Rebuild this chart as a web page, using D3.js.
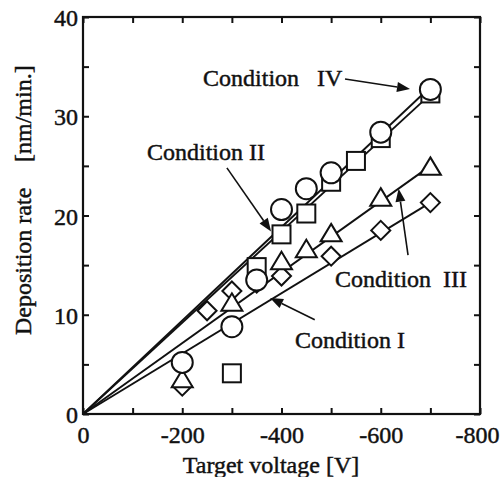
<!DOCTYPE html>
<html><head><meta charset="utf-8">
<script src="https://cdn.jsdelivr.net/npm/d3@7"></script>
<style>
html,body{margin:0;padding:0;background:#fff;}
svg text{font-family:"Liberation Serif",Tinos,"Times New Roman",Times,"DejaVu Serif","Noto Serif",serif !important;fill:#111;stroke:#111;stroke-width:0.45px;}
</style></head>
<body>
<svg id="c" width="500" height="477"></svg>
<script>
// ---- data ----
const xTicks = [0,-100,-200,-300,-400,-500,-600,-700,-800];
const xLabels = [0,-200,-400,-600,-800];
const yTicks = [0,5,10,15,20,25,30,35,40];
const yLabels = [0,10,20,30,40];

// Condition IV (circles)
const circleV = [-200,-300,-350,-400,-450,-500,-600,-700];
const circleR = [5.2,8.8,13.5,20.6,22.7,24.3,28.4,32.7];
// Condition II (squares)
const squareV = [-300,-350,-400,-450,-500,-550,-600,-700];
const squareR = [4.1,14.8,18.1,20.2,23.4,25.5,27.8,32.3];
// Condition III (triangles)
const triV = [-200,-300,-400,-450,-500,-600,-700];
const triR = [3.5,11.2,15.4,16.6,18.2,21.8,24.9];
// Condition I (diamonds)
const diaV = [-200,-250,-300,-350,-400,-500,-600,-700];
const diaR = [2.8,10.4,12.4,13.2,13.9,15.9,18.5,21.3];

// fit lines through origin: end voltage and rate
const fitNames = ["Condition I","Condition II","Condition III","Condition IV"];
const fitEndV = [-700,-700,-700,-700];
const fitEndR = [21.3,32.2,25.0,32.95];

// annotation labels (data units)
const annText = ["Condition   IV","Condition II","Condition  III","Condition I"];
const annTextV = [-242,-129,-508,-427];
const annTextR = [33.0,25.6,12.8,6.65];
const annFromV = [-528,-290,-655,-467];
const annFromR = [33.75,24.8,16.0,9.5];
const annToV = [-659,-379,-636,-377];
const annToR = [32.75,18.4,22.7,11.7];

// ---- layout ----
const W = 500, H = 477;
const m = {l:83, r:20, t:17, b:63};
const svg = d3.select("#c");
const x = d3.scaleLinear().domain([0,-800]).range([m.l, W-m.r]);
const y = d3.scaleLinear().domain([0,40]).range([H-m.b, m.t]);
const FS = 24;

// fit lines
const g = svg.append("g");
fitEndV.forEach((v,i)=>{
  g.append("line")
   .attr("x1",x(0)).attr("y1",y(0))
   .attr("x2",x(v)).attr("y2",y(fitEndR[i]))
   .attr("stroke","#111").attr("stroke-width",1.9);
});

// axes
const fmt = d => xLabels.includes(d) ? String(d) : "";
const fmtY = d => yLabels.includes(d) ? String(d) : "";
const ax = svg.append("g").attr("transform",`translate(0,${y(0)})`)
  .call(d3.axisBottom(x).tickValues(xTicks).tickSize(-6).tickPadding(12).tickFormat(fmt));
const axT = svg.append("g").attr("transform",`translate(0,${y(40)})`)
  .call(d3.axisTop(x).tickValues(xTicks).tickSize(-6).tickFormat(""));
const ay = svg.append("g").attr("transform",`translate(${x(0)},0)`)
  .call(d3.axisLeft(y).tickValues(yTicks).tickSize(-6).tickPadding(5).tickFormat(fmtY));
const ayR = svg.append("g").attr("transform",`translate(${x(-800)},0)`)
  .call(d3.axisRight(y).tickValues(yTicks).tickSize(-6).tickFormat(""));
[ax,axT,ay,ayR].forEach(a=>{
  a.attr("font-family",null);
  a.select(".domain").remove();
  a.selectAll(".tick line").attr("stroke","#111").attr("stroke-width",2);
  a.selectAll("text").attr("font-size",FS).attr("fill","#111");
});
ay.selectAll("text").attr("dy","0.36em");
// keep the last x label inside the picture
ax.selectAll(".tick text").filter(d=>d===-800).attr("text-anchor","end").attr("x",19);
svg.append("rect").attr("x",x(0)).attr("y",y(40))
  .attr("width",x(-800)-x(0)).attr("height",y(0)-y(40))
  .attr("fill","none").attr("stroke","#111").attr("stroke-width",2.2);

// markers
const mk = svg.append("g").attr("fill","#fff").attr("stroke","#111").attr("stroke-width",2);
diaV.forEach((v,i)=>{
  const cx=x(v), cy=y(diaR[i]), r=9.5;
  mk.append("path").attr("d",`M${cx},${cy-r}L${cx+r},${cy}L${cx},${cy+r}L${cx-r},${cy}Z`);
});
triV.forEach((v,i)=>{
  const cx=x(v), cy=y(triR[i]);
  mk.append("path").attr("d",`M${cx},${cy-9.5}L${cx+10.5},${cy+8}L${cx-10.5},${cy+8}Z`);
});
squareV.forEach((v,i)=>{
  const s=18;
  mk.append("rect").attr("x",x(v)-s/2).attr("y",y(squareR[i])-s/2).attr("width",s).attr("height",s);
});
circleV.forEach((v,i)=>{
  mk.append("circle").attr("cx",x(v)).attr("cy",y(circleR[i])).attr("r",10.5);
});

// annotations
annText.forEach((t,i)=>{
  svg.append("text").attr("x",x(annTextV[i])).attr("y",y(annTextR[i]))
    .attr("font-size",FS).style("white-space","pre").attr("xml:space","preserve").text(t);
  const x1=x(annFromV[i]), y1=y(annFromR[i]), x2=x(annToV[i]), y2=y(annToR[i]);
  const ang=Math.atan2(y2-y1,x2-x1), L=13, Wd=5;
  const bx=x2-L*Math.cos(ang), by=y2-L*Math.sin(ang);
  svg.append("line").attr("x1",x1).attr("y1",y1).attr("x2",bx).attr("y2",by)
    .attr("stroke","#111").attr("stroke-width",1.6);
  const px=-Math.sin(ang), py=Math.cos(ang);
  svg.append("path").attr("fill","#111")
    .attr("d",`M${x2},${y2}L${bx+Wd*px},${by+Wd*py}L${bx-Wd*px},${by-Wd*py}Z`);
});

// axis titles
svg.append("text").attr("x",271).attr("y",473).attr("font-size",FS)
  .attr("text-anchor","middle").text("Target voltage [V]");
svg.append("text").attr("transform","translate(31,335) rotate(-90)")
  .attr("font-size",FS).text("Deposition rate");
svg.append("text").attr("transform","translate(31,162) rotate(-90)")
  .attr("font-size",FS).text("[nm/min.]");
</script>
</body></html>
